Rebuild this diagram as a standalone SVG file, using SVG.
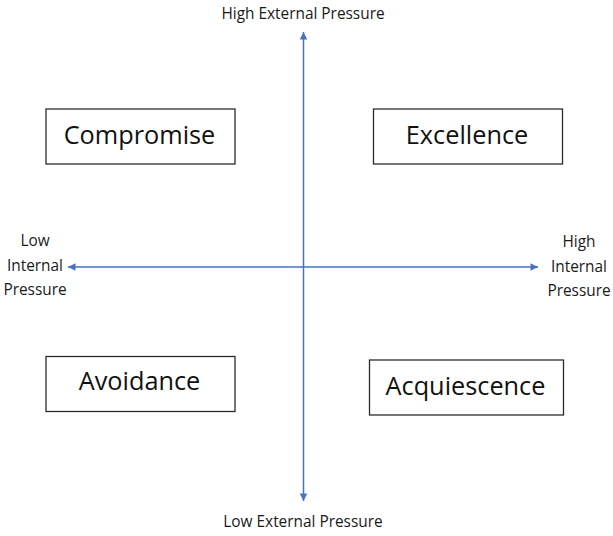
<svg xmlns="http://www.w3.org/2000/svg" width="613" height="536" viewBox="0 0 613 536">
  <style>
    .box { fill: #ffffff; stroke: #2b2b2b; stroke-width: 1.3; }
    .big { font-family: "Open Sans", "Noto Sans", sans-serif; font-size: 25.3px; fill: #111111; text-anchor: middle; }
    .small { font-family: "Open Sans", "Noto Sans", sans-serif; font-size: 15.4px; fill: #1a1a1a; text-anchor: middle; }
    .axis { stroke: #4472C4; stroke-width: 1.5; fill: none; }
  </style>
  <defs>
    <marker id="arrow" viewBox="0 0 10 10" refX="10" refY="5" markerWidth="8" markerHeight="7.5" orient="auto-start-reverse" markerUnits="userSpaceOnUse">
      <path d="M0,0 L10,5 L0,10 z" fill="#4472C4"/>
    </marker>
  </defs>
  <rect width="613" height="536" fill="#ffffff"/>

  <!-- axes -->
  <g id="connectors">
    <line class="axis" x1="303.5" y1="501" x2="303.5" y2="32" marker-end="url(#arrow)" marker-start="url(#arrow)"/>
    <line class="axis" x1="68" y1="267" x2="538" y2="267" marker-end="url(#arrow)" marker-start="url(#arrow)"/>
  </g>

  <!-- axis labels -->
  <g id="label-high-external">
    <text class="small" x="303" y="19">High External Pressure</text>
  </g>
  <g id="label-low-external">
    <text class="small" x="303" y="527">Low External Pressure</text>
  </g>
  <g id="label-low-internal">
    <text class="small" x="35" y="246">Low</text>
    <text class="small" x="35" y="271">Internal</text>
    <text class="small" x="35" y="295">Pressure</text>
  </g>
  <g id="label-high-internal">
    <text class="small" x="579" y="247">High</text>
    <text class="small" x="579" y="272">Internal</text>
    <text class="small" x="579" y="296">Pressure</text>
  </g>

  <!-- quadrants -->
  <g id="compromise">
    <rect class="box" x="46" y="109" width="189" height="55"/>
    <text class="big" x="139.5" y="144">Compromise</text>
  </g>
  <g id="excellence">
    <rect class="box" x="373.5" y="109" width="189" height="55"/>
    <text class="big" x="467" y="144">Excellence</text>
  </g>
  <g id="avoidance">
    <rect class="box" x="46" y="356.5" width="189" height="55"/>
    <text class="big" x="139.5" y="390">Avoidance</text>
  </g>
  <g id="acquiescence">
    <rect class="box" x="369.5" y="360" width="194" height="55"/>
    <text class="big" x="465.5" y="395">Acquiescence</text>
  </g>
</svg>
